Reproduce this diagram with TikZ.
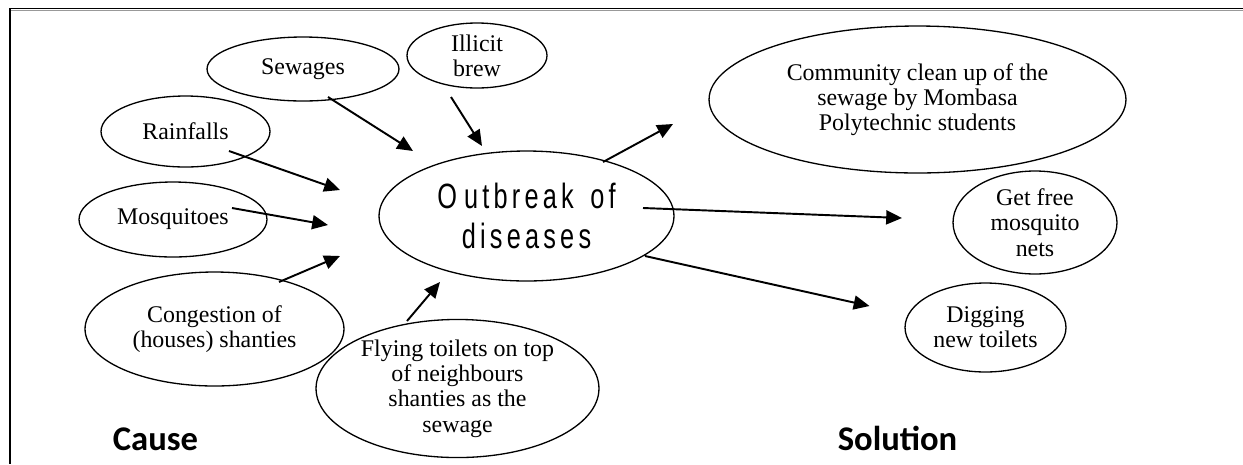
\documentclass[tikz,border=0pt]{standalone}
\usepackage{fontspec}
\setmainfont{Liberation Serif}
\newfontfamily\outfont[FakeStretch=0.72,LetterSpace=12]{Liberation Sans}
\newfontfamily\headfont{Carlito}
\usetikzlibrary{arrows.meta,shapes.geometric,calc}
\tikzset{
	bubble/.style={draw, ellipse, line width=0.75pt, inner sep=0pt, align=center,
		font=\fontsize{13.6}{14.4}\selectfont},
	arr/.style={->, line width=1.1pt},
	heading/.style={anchor=base, font=\headfont\bfseries\fontsize{19.7}{22}\selectfont},
}

\begin{document}
\begin{tikzpicture}[x=0.02cm, y=-0.02cm, >={Triangle[length=9pt,width=8pt]}]
		\useasboundingbox (0,0) rectangle (1243,464);
		\draw[line width=1pt] (1243,8.5) -- (10,8.5) -- (10,464);
		\draw[black!40, line width=0.4pt] (11,10) -- (1243,10);
		% causes
		\node[bubble, minimum width=3.84cm, minimum height=1.28cm] (sewage) at (303,69) {Sewages};
		\node[bubble, minimum width=2.8cm, minimum height=1.3cm] (brew) at (477,55.5) {Illicit\\brew};
		\node[bubble, minimum width=3.38cm, minimum height=1.42cm] (rain) at (185.5,131.5) {Rainfalls};
		\node[bubble, minimum width=3.76cm, minimum height=1.5cm] (mosq) at (173,219.5) {Mosquitoes};
		\node[bubble, minimum width=5.18cm, minimum height=2.28cm] (congest) at (214.5,329) {Congestion of\\(houses) shanties};
		\node[bubble, minimum width=5.66cm, minimum height=2.58cm] (flying) at (457.5,388.5) {Flying toilets on top\\of neighbours\\shanties as the\\sewage};
		% centre
		\node[bubble, minimum width=5.9cm, minimum height=2.6cm,
			font=\outfont\fontsize{20}{22.7}\selectfont] (outbreak) at (526.5,216) {O\kern4pt utbreak\hspace{3pt} of\\diseases};
		% solutions
		\node[bubble, minimum width=8.34cm, minimum height=2.94cm] (cleanup) at (917.5,99.5) {Community clean up of the\\sewage by Mombasa\\Polytechnic students};
		\node[bubble, minimum width=3.28cm, minimum height=2.06cm] (nets) at (1035,222.5) {Get free\\mosquito\\nets};
		\node[bubble, minimum width=3.22cm, minimum height=1.78cm] (digging) at (985.5,327.5) {Digging\\new toilets};
		\node[heading] (cause) at (155.5,450) {Cause};
		\node[heading] (solution) at (897.5,450) {Solution};
		% arrows
		\draw[arr] ($(sewage)+(25,28)$) -- ($(outbreak)+(-113.5,-65)$);
		\draw[arr] ($(brew)+(-26,41.5)$) -- ($(outbreak)+(-44.5,-70)$);
		\draw[arr] ($(rain)+(43.5,19.5)$) -- ($(outbreak)+(-186.5,-26)$);
		\draw[arr] ($(mosq)+(59,-11.5)$) -- ($(outbreak)+(-198.5,9)$);
		\draw[arr] ($(congest)+(64.5,-47)$) -- ($(outbreak)+(-186.5,40)$);
		\draw[arr] ($(flying)+(-50.5,-67.5)$) -- ($(outbreak)+(-86.5,66)$);
		\draw[arr] ($(outbreak)+(76.5,-54)$) -- ($(cleanup)+(-244.5,24.5)$);
		\draw[arr] ($(outbreak)+(116.5,-8)$) -- ($(nets)+(-133,-4.5)$);
		\draw[arr] ($(outbreak)+(118.5,40)$) -- ($(digging)+(-116,-21.5)$);
	\end{tikzpicture}
\end{document}
